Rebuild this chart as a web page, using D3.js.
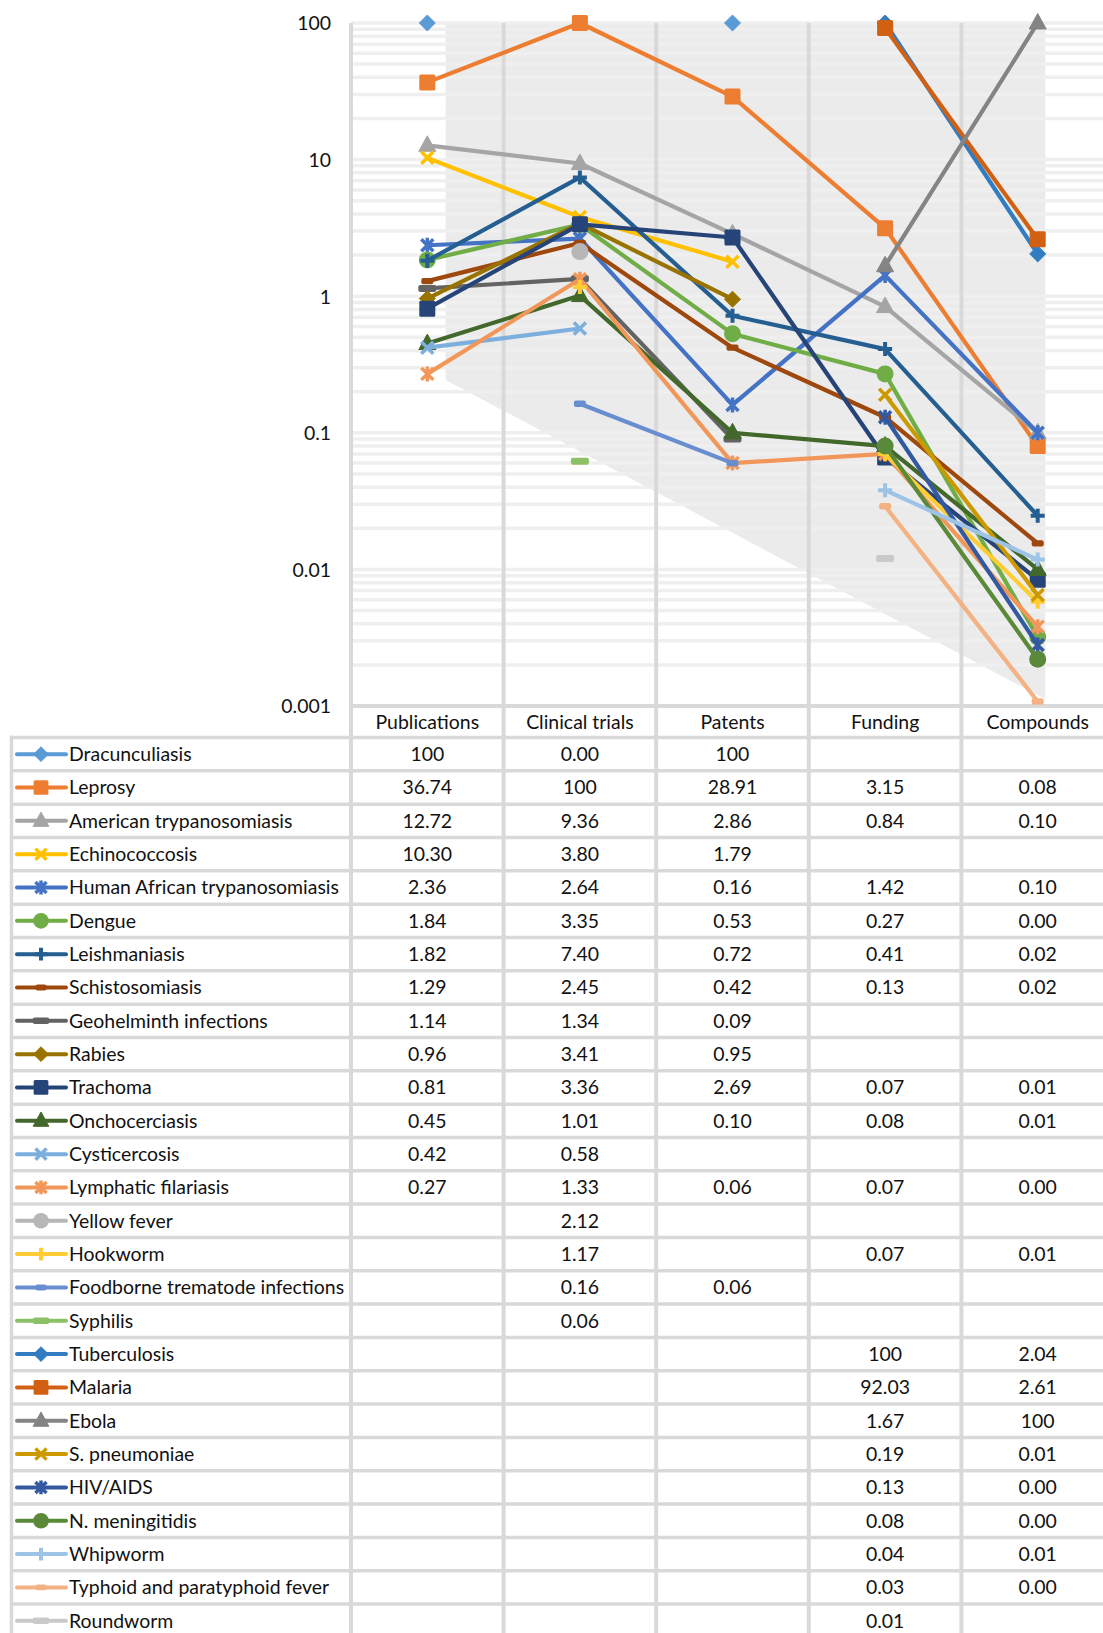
<!DOCTYPE html>
<html><head><meta charset="utf-8">
<script src="https://cdn.jsdelivr.net/npm/d3@7"></script>
<style>
html,body{margin:0;padding:0;background:#fff;}
svg{display:block;font-family:Lato,'Open Sans',sans-serif;}
</style></head><body>
<svg id="chart" width="1103" height="1633"></svg>
<script>
// ---------------- DATA ----------------
const categories = ["Publications", "Clinical trials", "Patents", "Funding", "Compounds"];
const diseases = ["Dracunculiasis","Leprosy","American trypanosomiasis","Echinococcosis","Human African trypanosomiasis","Dengue","Leishmaniasis","Schistosomiasis","Geohelminth infections","Rabies","Trachoma","Onchocerciasis","Cysticercosis","Lymphatic filariasis","Yellow fever","Hookworm","Foodborne trematode infections","Syphilis","Tuberculosis","Malaria","Ebola","S. pneumoniae","HIV/AIDS","N. meningitidis","Whipworm","Typhoid and paratyphoid fever","Roundworm"];
const publications   = [100, 36.74, 12.72, 10.30, 2.36, 1.84, 1.82, 1.29, 1.14, 0.96, 0.81, 0.45, 0.42, 0.27, null, null, null, null, null, null, null, null, null, null, null, null, null];
const clinicalTrials = [0, 100, 9.36, 3.80, 2.64, 3.35, 7.40, 2.45, 1.34, 3.41, 3.36, 1.01, 0.58, 1.33, 2.12, 1.17, 0.163, 0.062, null, null, null, null, null, null, null, null, null];
const patents        = [100, 28.91, 2.86, 1.79, 0.16, 0.53, 0.72, 0.42, 0.09, 0.95, 2.69, 0.10, null, 0.06, null, null, 0.06, null, null, null, null, null, null, null, null, null, null];
const funding        = [null, 3.15, 0.84, null, 1.42, 0.27, 0.41, 0.13, null, null, 0.066, 0.08, null, 0.07, null, 0.07, null, null, 100, 92.03, 1.67, 0.19, 0.13, 0.08, 0.038, 0.029, 0.012];
const compounds      = [null, 0.08, 0.10, null, 0.10, 0.0032, 0.0247, 0.0155, null, null, 0.0084, 0.0100, null, 0.0038, null, 0.0058, null, null, 2.04, 2.61, 100, 0.0065, 0.0028, 0.0022, 0.0118, 0.00108, null];
const yTickValues = [0.001, 0.01, 0.1, 1, 10, 100];
const yTickLabels = ["0.001", "0.01", "0.1", "1", "10", "100"];
// background shading band (category position, top value, bottom value)
const shadePos = [0.12, 4.05];
const shadeTop = [100, 100];
const shadeBottom = [0.244, 0.00112];

const seriesColors = ["#5B9BD5","#ED7D31","#A5A5A5","#FFC000","#4472C4","#70AD47","#255E91","#9E480E","#636363","#997300","#264478","#43682B","#7CAFDD","#F1975A","#B7B7B7","#FFCD33","#698ED0","#8CC168","#327DC2","#D26012","#848484","#CC9A00","#335AA1","#5A8A39","#9DC3E6","#F4B183","#C9C9C9"];
const markerCycle = ["diamond","square","triangle","x","star","circle","plus","dash","longdash"];

const valuesByCat = [publications, clinicalTrials, patents, funding, compounds];

// ---------------- LAYOUT ----------------
const W = 1103, H = 1633;
const plotTop = 23, plotBottom = 706, plotLeft = 351, step = 152.6;
const rowTop = 737.5, rowH = 33.33;
const gridCol = "#d9d9d9";
const txtCol = "#111";

const svg = d3.select("#chart");
const x = d3.scaleBand().domain(categories).range([plotLeft, plotLeft + step * categories.length]).padding(0);
const xc = c => x(c) + x.bandwidth() / 2;
const xPos = d3.scaleLinear().domain([-0.5, categories.length - 0.5]).range([plotLeft, plotLeft + step * categories.length]);
const y = d3.scaleLog().domain([0.001, 100]).range([plotBottom, plotTop]);

// font size fitting (Calibri-like width)
const probe = svg.append("text").attr("font-size", 100).text("Human African trypanosomiasis");
const fs = +(270 / probe.node().getComputedTextLength() * 100).toFixed(2);
probe.remove();

// shading
svg.append("path")
  .attr("d", d3.area().x(d => xPos(d.p)).y0(d => y(d.b)).y1(d => y(d.t))(shadePos.map((p, i) => ({p, t: shadeTop[i], b: shadeBottom[i]}))))
  .attr("fill", "#ebebeb");

// horizontal gridlines (major+minor log ticks)
svg.append("g").selectAll("line").data(y.ticks()).join("line")
  .attr("x1", plotLeft).attr("x2", W).attr("y1", d => y(d)).attr("y2", d => y(d))
  .attr("stroke", "#efefef").attr("stroke-width", 3.5);

// y axis labels
const yAxis = svg.append("g").attr("transform", `translate(${plotLeft},0)`)
  .call(d3.axisLeft(y).tickValues(yTickValues).tickSize(0).tickPadding(20).tickFormat((d, i) => yTickLabels[i]));
yAxis.select(".domain").remove();
yAxis.selectAll("text").attr("font-size", fs).attr("font-family", "Lato").attr("fill", txtCol).attr("dy", "0.35em");

// vertical grid / table column lines
svg.append("g").selectAll("line").data(d3.range(categories.length + 1)).join("line")
  .attr("x1", d => plotLeft + d * step).attr("x2", d => plotLeft + d * step)
  .attr("y1", plotTop).attr("y2", H)
  .attr("stroke", gridCol).attr("stroke-width", 4);

// axis line / table top
svg.append("line").attr("x1", plotLeft - 2).attr("x2", W).attr("y1", plotBottom).attr("y2", plotBottom)
  .attr("stroke", gridCol).attr("stroke-width", 4);
// row lines
svg.append("g").selectAll("line").data(d3.range(diseases.length + 1)).join("line")
  .attr("x1", 10).attr("x2", W).attr("y1", d => rowTop + d * rowH).attr("y2", d => rowTop + d * rowH)
  .attr("stroke", gridCol).attr("stroke-width", 3.5);
svg.append("line").attr("x1", 11.5).attr("x2", 11.5).attr("y1", rowTop - 1.75).attr("y2", H)
  .attr("stroke", gridCol).attr("stroke-width", 3.5);

// category header labels
const xAxis = svg.append("g").attr("transform", `translate(0,${plotBottom})`)
  .call(d3.axisBottom(x).tickSize(0).tickPadding(0));
xAxis.select(".domain").remove();
xAxis.selectAll("text").attr("font-size", fs).attr("font-family", "Lato").attr("fill", txtCol)
  .attr("y", 16).attr("dy", "0.35em");

// marker drawer
function drawMarker(g, type, color, s) {
  switch (type) {
    case "diamond":
      g.append("path").attr("d", `M0,${-8*s}L${8*s},0L0,${8*s}L${-8*s},0Z`).attr("fill", color).attr("stroke", color).attr("stroke-width", 1); break;
    case "square":
      g.append("rect").attr("x", -8*s).attr("y", -8*s).attr("width", 16*s).attr("height", 16*s).attr("rx", 1.5).attr("fill", color); break;
    case "triangle":
      g.append("path").attr("d", `M0,${-9.5*s}L${8.5*s},${6*s}L${-8.5*s},${6*s}Z`).attr("fill", color).attr("stroke", color).attr("stroke-width", 1).attr("stroke-linejoin", "round"); break;
    case "x":
      g.append("path").attr("d", `M${-6*s},${-6*s}L${6*s},${6*s}M${-6*s},${6*s}L${6*s},${-6*s}`).attr("stroke", color).attr("stroke-width", 3.5).attr("fill", "none"); break;
    case "star":
      g.append("path").attr("d", `M${-6*s},${-6*s}L${6*s},${6*s}M${-6*s},${6*s}L${6*s},${-6*s}M0,${-7.5*s}L0,${7.5*s}`).attr("stroke", color).attr("stroke-width", 3.5).attr("fill", "none"); break;
    case "circle":
      g.append("circle").attr("r", 8.5*s).attr("fill", color); break;
    case "plus":
      g.append("path").attr("d", `M${-7*s},0L${7*s},0M0,${-7*s}L0,${7*s}`).attr("stroke", color).attr("stroke-width", 4).attr("fill", "none"); break;
    case "dash":
      g.append("rect").attr("x", -6*s).attr("y", -3.2*s).attr("width", 12*s).attr("height", 6.4*s).attr("rx", 2).attr("fill", color); break;
    case "longdash":
      g.append("rect").attr("x", -9*s).attr("y", -3.5*s).attr("width", 18*s).attr("height", 7*s).attr("rx", 2).attr("fill", color); break;
  }
}

// series lines and markers
const plotG = svg.append("g");
diseases.forEach((name, i) => {
  const pts = categories.map((c, k) => ({c, v: valuesByCat[k][i]}));
  const color = seriesColors[i];
  const type = markerCycle[i % markerCycle.length];
  const line = d3.line().defined(d => d.v != null && d.v > 0).x(d => xc(d.c)).y(d => y(d.v));
  plotG.append("path").attr("d", line(pts)).attr("fill", "none").attr("stroke", color)
    .attr("stroke-width", 4.2).attr("stroke-linejoin", "round").attr("stroke-linecap", "round");
  pts.filter(d => d.v != null && d.v > 0).forEach(d => {
    drawMarker(plotG.append("g").attr("transform", `translate(${xc(d.c)},${y(d.v)})`), type, color, 1);
  });
});

// legend + table values
const fmt = v => v === 100 ? "100" : v.toFixed(2);
diseases.forEach((name, i) => {
  const cy = rowTop + i * rowH + rowH / 2;
  const color = seriesColors[i];
  const g = svg.append("g");
  g.append("line").attr("x1", 17).attr("x2", 66).attr("y1", cy).attr("y2", cy).attr("stroke", color).attr("stroke-width", 4).attr("stroke-linecap", "round");
  drawMarker(g.append("g").attr("transform", `translate(41,${cy})`), markerCycle[i % markerCycle.length], color, 0.92);
  g.append("text").attr("x", 69).attr("y", cy).attr("dy", "0.35em").attr("font-size", fs).attr("fill", txtCol).text(name);
  categories.forEach((c, k) => {
    const v = valuesByCat[k][i];
    if (v == null) return;
    g.append("text").attr("x", xc(c)).attr("y", cy).attr("dy", "0.35em").attr("text-anchor", "middle")
      .attr("font-size", fs).attr("fill", txtCol).text(fmt(v));
  });
});
</script>
</body></html>
